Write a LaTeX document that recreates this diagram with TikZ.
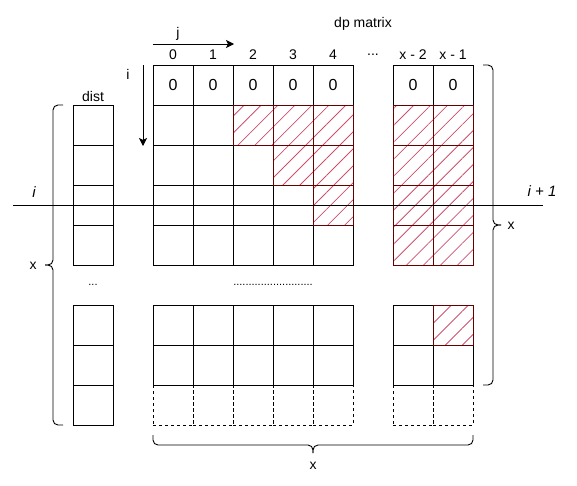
\documentclass[tikz,border=0pt]{standalone}
\usepackage{fontspec}
\setmainfont{Liberation Sans}
\usetikzlibrary{arrows.meta,patterns.meta}
\definecolor{hatchred}{RGB}{204,80,110}
\definecolor{cellred}{RGB}{102,0,0}
\begin{document}
\begin{tikzpicture}[x=1pt,y=-1pt,
  cell/.style={draw=black,line width=0.9pt,minimum size=40pt,inner sep=0pt,outer sep=0pt},
  dcell/.style={cell,dash pattern=on 3pt off 3pt},
  hcell/.style={cell,draw=cellred,pattern={Lines[angle=45,distance=12pt,line width=0.8pt]},pattern color=hatchred},
  lbl/.style={font=\fontsize{14}{16}\selectfont,inner sep=0pt},
  zero/.style={font=\fontsize{16}{18}\selectfont,inner sep=0pt},
  ilbl/.style={font=\fontsize{15}{17}\selectfont\itshape,inner sep=0pt},
  dots/.style={font=\fontsize{11}{13}\selectfont,inner sep=0pt},
  brace/.style={line width=0.9pt,rounded corners=5pt},
  arr/.style={line width=0.9pt,-{Stealth[length=8pt,width=8pt,inset=2pt]}}
]
\useasboundingbox (0,0) rectangle (577,485);

% dp matrix top row with zeros
\foreach \x [count=\k] in {173,213,253,293,333,413,453}{
  \node[cell] (z\k) at (\x,85) {};
  \node[zero] at (z\k) {0};
}
% upper body rows
\foreach \y [count=\r] in {125,165,205,245}{
  \foreach \x [count=\k] in {173,213,253,293,333,413,453}{
    \node[cell] (u\r-\k) at (\x,\y) {};
  }
}
% hatched cells in upper body
\node[hcell] (h1) at (253,125) {};
\node[hcell] (h2) at (293,125) {};
\node[hcell] (h3) at (333,125) {};
\node[hcell] (h4) at (293,165) {};
\node[hcell] (h5) at (333,165) {};
\node[hcell] (h6) at (333,205) {};
\foreach \y [count=\r] in {125,165,205,245}{
  \node[hcell] (hr\r-1) at (413,\y) {};
  \node[hcell] (hr\r-2) at (453,\y) {};
}
% lower body rows
\foreach \y [count=\r] in {325,365}{
  \foreach \x [count=\k] in {173,213,253,293,333,413,453}{
    \node[cell] (l\r-\k) at (\x,\y) {};
  }
}
\node[hcell] (hb) at (453,325) {};
\foreach \x [count=\k] in {173,213,253,293,333,413,453}{
  \node[dcell] (d\k) at (\x,405) {};
}

% dist column
\foreach \y [count=\r] in {125,165,205,245,325,365,405}{
  \node[cell] (dist\r) at (93,\y) {};
}
\node[lbl] (distlbl) at (93,96) {dist};
\node[dots] (distdots) at (93,285) {...};
\node[dots] (middots) at (273,285) {..........................};

% column labels
\node[lbl] (c0) at (173,55) {0};
\node[lbl] (c1) at (213,55) {1};
\node[lbl] (c2) at (253,55) {2};
\node[lbl] (c3) at (293,55) {3};
\node[lbl] (c4) at (333,55) {4};
\node[lbl] (cdots) at (373,55) {...};
\node[lbl] (cx2) at (413,55) {x - 2};
\node[lbl] (cx1) at (453,55) {x - 1};
\node[lbl] (title) at (363,24) {dp matrix};

% arrows j and i
\coordinate (ja) at (153,44);
\coordinate (jb) at (234,44);
\draw[arr] (ja) -- (jb);
\node[lbl] (jlbl) at (178,34) {j};
\coordinate (ia) at (143,65);
\coordinate (ib) at (143,146);
\draw[arr] (ia) -- (ib);
\node[lbl] (ilbl) at (128,74) {i};

% horizontal i line
\coordinate (la) at (13,205);
\coordinate (lb) at (543,205);
\draw[line width=0.9pt] (la) -- (lb);
\node[ilbl] (iL) at (34,192) {i};
\node[ilbl] (iR) at (542,191) {i + 1};

% left brace
\draw[brace] (63,105) -- (53,105) -- (53,265) -- (45,265);
\draw[brace] (45,265) -- (53,265) -- (53,425) -- (63,425);
\node[lbl] (xl) at (33,266) {x};
% right brace
\draw[brace] (483,65) -- (493,65) -- (493,225) -- (501,225);
\draw[brace] (501,225) -- (493,225) -- (493,385) -- (483,385);
\node[lbl] (xr) at (511,226) {x};
% bottom brace
\draw[brace] (153,435) -- (153,445) -- (313,445) -- (313,453);
\draw[brace] (313,453) -- (313,445) -- (473,445) -- (473,435);
\node[lbl] (xb) at (313,466) {x};
\end{tikzpicture}
\end{document}
